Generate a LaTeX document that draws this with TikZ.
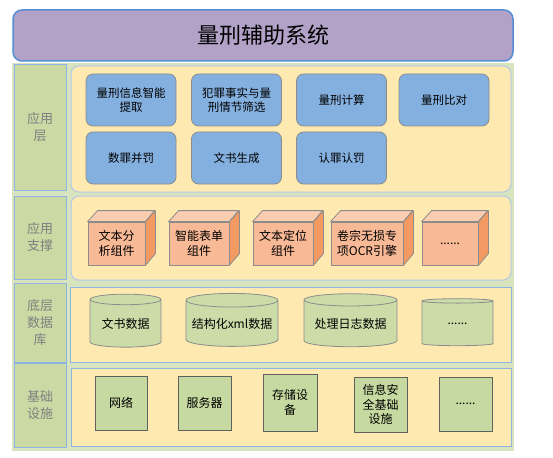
\documentclass[tikz,border=0pt]{standalone}
\usepackage{fontspec}
\setmainfont{Noto Sans CJK SC}
\usetikzlibrary{shapes.geometric}
\definecolor{titlefill}{HTML}{B3A2C7}
\definecolor{titleline}{HTML}{558ED5}
\definecolor{bggreen}{HTML}{D7E4BD}
\definecolor{labfill}{HTML}{CBDAA5}
\definecolor{labline}{HTML}{8EB4E3}
\definecolor{yel}{HTML}{FEEAB1}
\definecolor{yelline}{HTML}{B4C7E7}
\definecolor{bluebox}{HTML}{84B0DF}
\definecolor{grayline}{HTML}{8C8C8C}
\definecolor{cubefront}{HTML}{F8B997}
\definecolor{cubetop}{HTML}{FBCDB0}
\definecolor{cubeside}{HTML}{F29A61}
\definecolor{cylfill}{HTML}{CCDCA9}
\definecolor{sqfill}{HTML}{C6D9A0}
\definecolor{sqline}{HTML}{606060}
\definecolor{labtext}{HTML}{7F7F7F}
\tikzset{
  lab/.style={draw=labline, fill=labfill, line width=1pt, text=labtext,
    font=\fontsize{13}{17}\selectfont, align=center, inner sep=0pt},
  panel/.style={draw=yelline, fill=yel, line width=1pt},
  appbox/.style={draw=grayline, fill=bluebox, rounded corners=7pt, line width=0.8pt,
    minimum width=90pt, minimum height=52pt, align=center, text width=78pt,
    font=\fontsize{11.5}{14}\selectfont, inner sep=0pt},
  cubebox/.style={draw=grayline, fill=cubefront, line width=0.8pt, align=center,
    font=\fontsize{12}{14.5}\selectfont, inner sep=0pt},
  cubetopface/.style={draw=grayline, fill=cubetop, line width=0.8pt, line join=round},
  cubesideface/.style={draw=grayline, fill=cubeside, line width=0.8pt, line join=round},
  cyl/.style={cylinder, shape border rotate=90, draw=grayline, fill=cylfill,
    line width=0.8pt, font=\fontsize{12}{14}\selectfont, inner sep=0pt},
  sq/.style={draw=sqline, fill=sqfill, line width=0.9pt, align=center,
    font=\fontsize{12}{14.5}\selectfont, inner sep=0pt},
}
\begin{document}
\begin{tikzpicture}[x=1pt,y=-1pt]
\useasboundingbox (0,0) rectangle (553,457);
% background
\fill[bggreen] (12,63) rectangle (514,451);
% title
\node[draw=titleline, fill=titlefill, line width=1.5pt, rounded corners=9pt,
  minimum width=500pt, minimum height=51pt, inner sep=0pt,
  font=\fontsize{22}{26}\selectfont] (title) at (263,35.5) {量刑辅助系统};
% layer labels
\node[lab, minimum width=52pt, minimum height=125pt] (l1) at (40,127.5) {应用\\层};
\node[lab, minimum width=52pt, minimum height=83pt] (l2) at (40,237.5) {应用\\支撑};
\node[lab, minimum width=52pt, minimum height=79pt] (l3) at (40,322.5) {底层\\数据\\库};
\node[lab, minimum width=52pt, minimum height=84pt] (l4) at (40,405) {基础\\设施};
% panels
\node[panel, rounded corners=8pt, minimum width=440pt, minimum height=126pt] (p1) at (291,129) {};
\node[panel, rounded corners=8pt, minimum width=440pt, minimum height=84pt] (p2) at (291,238) {};
\node[panel, draw=labline, minimum width=441pt, minimum height=75pt] (p3) at (290.5,324.5) {};
\node[panel, draw=labline, minimum width=440pt, minimum height=78pt] (p4) at (291,407) {};
% layer 1
\node[appbox] (a1) at (131,100) {量刑信息智能\\提取};
\node[appbox] (a2) at (236.5,100) {犯罪事实与量\\刑情节筛选};
\node[appbox] (a3) at (341.5,100) {量刑计算};
\node[appbox] (a4) at (444,100) {量刑比对};
\node[appbox] (a5) at (131,158) {数罪并罚};
\node[appbox] (a6) at (236.5,158) {文书生成};
\node[appbox] (a7) at (341.5,158) {认罪认罚};
% layer 2 cubes
\foreach \n/\cx/\w/\t in {c1/116.5/57/{文本分\\析组件}, c2/199/60/{智能表单\\组件}, c3/283/60/{文本定位\\组件}, c4/367/72/{卷宗无损专\\项OCR引擎}, c5/450/56/{......}}{
  \node[cubebox, minimum width=\w pt, minimum height=43pt] (\n) at (\cx,243.5) {\t};
  \draw[cubetopface] (\n.north west) -- ++(10,-11) -- ++(\w,0) -- (\n.north east) -- cycle;
  \draw[cubesideface] (\n.north east) -- ++(10,-11) -- ++(0,43) -- (\n.south east) -- cycle;
}
% layer 3 cylinders
\node[cyl, minimum width=71pt, minimum height=53pt, aspect=0.22] (d1) at (125.5,323.5) {文书数据};
\node[cyl, minimum width=92pt, minimum height=53pt, aspect=0.17] (d2) at (232,323.5) {结构化xml数据};
\node[cyl, minimum width=93pt, minimum height=53pt, aspect=0.17] (d3) at (350.5,323.5) {处理日志数据};
\node[cyl, minimum width=71pt, minimum height=47pt, aspect=0.22] (d4) at (457.5,323.5) {......};
% layer 4 squares
\node[sq, minimum width=52pt, minimum height=54pt] (s1) at (121,403) {网络};
\node[sq, minimum width=53pt, minimum height=54pt] (s2) at (204.5,403) {服务器};
\node[sq, minimum width=54pt, minimum height=57pt] (s3) at (290,402.5) {存储设\\备};
\node[sq, minimum width=53pt, minimum height=55pt] (s4) at (380.5,404.5) {信息安\\全基础\\设施};
\node[sq, minimum width=53pt, minimum height=54pt] (s5) at (465.5,404) {......};
\end{tikzpicture}
\end{document}
